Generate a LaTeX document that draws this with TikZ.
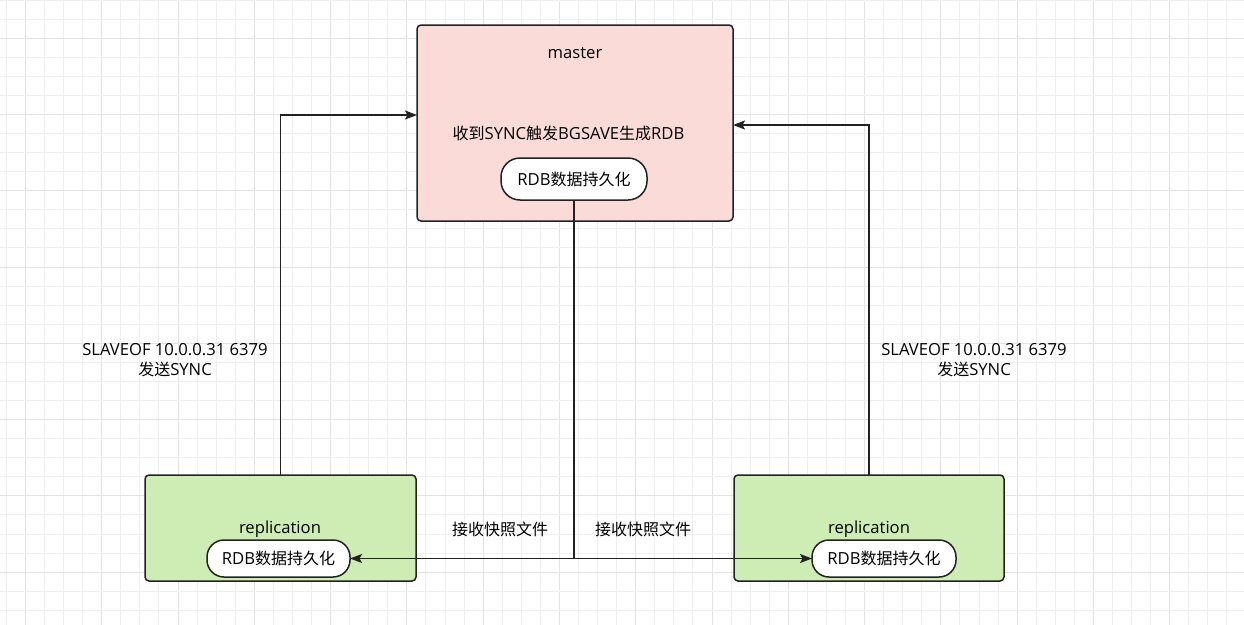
\documentclass[tikz,border=0pt]{standalone}
\usepackage{fontspec}
\setmainfont[Scale=1.04]{Open Sans}
\newfontfamily\cjk{Noto Sans CJK SC}
\newcommand{\zh}[1]{{\cjk #1}}
\usetikzlibrary{arrows.meta}
\definecolor{pinkfill}{HTML}{FADBD8}
\definecolor{greenfill}{HTML}{CDEDB5}
\definecolor{strokec}{HTML}{222222}
\definecolor{gridminor}{HTML}{EFEFEF}
\definecolor{gridmajor}{HTML}{E3E3E3}
\tikzset{
  box/.style={draw=strokec, line width=1.5pt, rounded corners=4pt, inner sep=0pt, outer sep=0pt},
  pill/.style={draw=strokec, line width=1.5pt, fill=white, inner sep=0pt, outer sep=0pt, font=\fontsize{16}{18}\selectfont},
  lbl/.style={inner sep=0pt, font=\fontsize{16}{20}\selectfont, align=center, text=black},
  arr/.style={draw=strokec, line width=1.5pt, -{Stealth[length=12pt,width=9pt,inset=2.5pt]}},
  gline/.style={line width=1pt, line cap=rect}
}
\begin{document}
\begin{tikzpicture}[x=1pt,y=-1pt]
\useasboundingbox (0,0) rectangle (1244,624);
\fill[white] (0,0) rectangle (1244,624);
% grid
\foreach \i in {-2,...,64} {
  \pgfmathsetmacro\gx{round(25+19.07*\i)+0.5}
  \pgfmathtruncatemacro\m{mod(\i+400,4)}
  \ifnum\m=0 \draw[gline, gridmajor] (\gx,0) -- (\gx,624);
  \else \draw[gline, gridminor] (\gx,0) -- (\gx,624); \fi
}
\foreach \i in {-2,...,31} {
  \pgfmathsetmacro\gy{round(37.7+19.07*\i)+0.5}
  \pgfmathtruncatemacro\m{mod(\i+400,4)}
  \ifnum\m=0 \draw[gline, gridmajor] (0,\gy) -- (1244,\gy);
  \else \draw[gline, gridminor] (0,\gy) -- (1244,\gy); \fi
}
% boxes
\node[box, fill=pinkfill, minimum width=316pt, minimum height=196pt] (master) at (575,123) {};
\node[box, fill=greenfill, minimum width=271pt, minimum height=106pt] (lrep) at (280.5,528) {};
\node[box, fill=greenfill, minimum width=270pt, minimum height=106pt] (rrep) at (869,528) {};
\node[pill, rounded corners=19pt, minimum width=146pt, minimum height=42pt] (mrdb) at (574,179) {RDB\zh{数据持久化}};
\node[pill, rounded corners=17pt, minimum width=143pt, minimum height=37pt] (lrdb) at (278.5,558.5) {RDB\zh{数据持久化}};
\node[pill, rounded corners=17pt, minimum width=144pt, minimum height=37pt] (rrdb) at (884,558.5) {RDB\zh{数据持久化}};
% labels
\node[lbl] (mtitle) at (575,53) {master};
\node[lbl] (mtext) at (568.5,133) {\zh{收到}SYNC\zh{触发}BGSAVE\zh{生成}RDB};
\node[lbl] (ltitle) at (280,529) {replication};
\node[lbl] (rtitle) at (869,529) {replication};
\node[lbl] (lslave) at (175,360) {SLAVEOF 10.0.0.31 6379\\\zh{发送}SYNC};
\node[lbl] (rslave) at (974,360) {SLAVEOF 10.0.0.31 6379\\\zh{发送}SYNC};
\node[lbl] (lrecv) at (500,529) {\zh{接收快照文件}};
\node[lbl] (rrecv) at (643,529) {\zh{接收快照文件}};
% connectors
\draw[arr] (lrep.north) |- ([yshift=8pt]master.west);
\draw[arr] (rrep.north) |- ([yshift=-2pt]master.east);
\draw[arr] (mrdb.south) |- (lrdb.east);
\draw[arr] (mrdb.south) |- (rrdb.west);
\end{tikzpicture}
\end{document}
